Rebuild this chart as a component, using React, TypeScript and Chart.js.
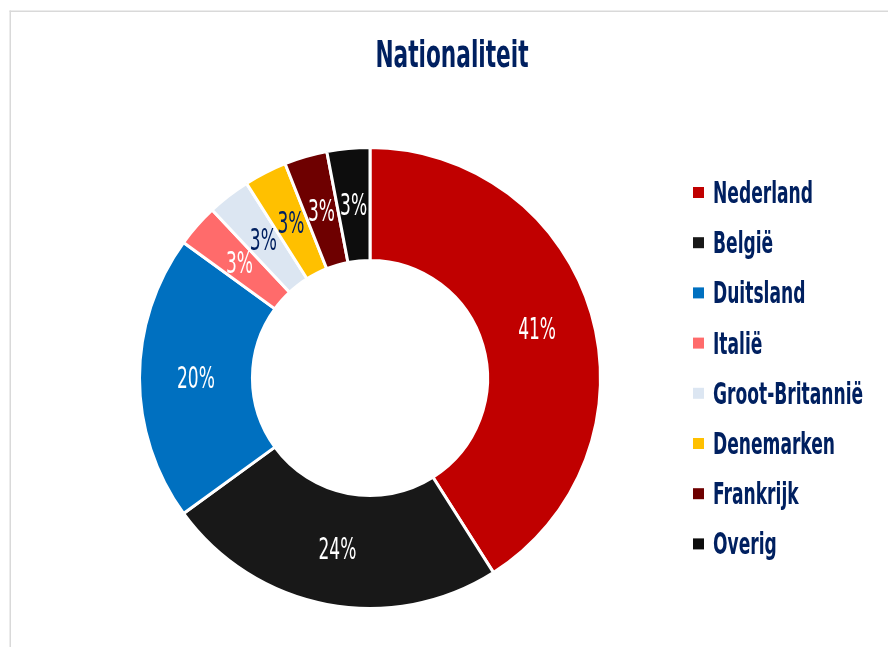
import React, { useEffect, useRef } from 'react';
import { Chart, registerables } from 'chart.js';

Chart.register(...registerables);

const categories = ['Nederland', 'België', 'Duitsland', 'Italië', 'Groot-Britannië', 'Denemarken', 'Frankrijk', 'Overig'];
const shares = [41, 24, 20, 3, 3, 3, 3, 3];
const sliceColors = ['#C00000', '#181818', '#0070C0', '#FF6B6B', '#DCE6F2', '#FFC000', '#6E0000', '#0D0D0D'];
const labelColors = ['#FFFFFF', '#FFFFFF', '#FFFFFF', '#FFFFFF', '#002060', '#002060', '#FFFFFF', '#FFFFFF'];
const chartTitle = 'Nationaliteit';

const NAVY = '#002060';
const FONT = '"DejaVu Sans", "Liberation Sans", sans-serif';
const NARROW = 0.57;

function drawNarrow(ctx: CanvasRenderingContext2D, text: string, x: number, y: number, align: CanvasTextAlign, scaleX: number) {
  ctx.save();
  ctx.translate(x, y);
  ctx.scale(scaleX, 1);
  ctx.textAlign = align;
  ctx.textBaseline = 'alphabetic';
  ctx.fillText(text, 0, 0);
  ctx.restore();
}

const framePlugin = {
  id: 'frame',
  beforeDraw(chart: any) {
    const ctx = chart.ctx as CanvasRenderingContext2D;
    ctx.save();
    ctx.fillStyle = '#FFFFFF';
    ctx.fillRect(0, 0, chart.width, chart.height);
    ctx.fillStyle = '#D9D9D9';
    ctx.fillRect(9.5, 10.5, 1.5, chart.height);
    ctx.fillRect(9.5, 10.5, chart.width, 1.5);
    ctx.restore();
  },
};

const sliceLabelPlugin = {
  id: 'sliceLabels',
  afterDatasetsDraw(chart: any) {
    const ctx = chart.ctx as CanvasRenderingContext2D;
    const meta = chart.getDatasetMeta(0);
    const total = shares.reduce((a, b) => a + b, 0);
    ctx.save();
    ctx.font = `normal 31px ${FONT}`;
    meta.data.forEach((arc: any, i: number) => {
      const p = arc.getCenterPoint();
      const pct = Math.round((shares[i] / total) * 100) + '%';
      ctx.fillStyle = labelColors[i];
      drawNarrow(ctx, pct, p.x, p.y + 10, 'center', 0.55);
    });
    ctx.restore();
  },
};

const titleLegendPlugin = {
  id: 'titleLegend',
  afterDraw(chart: any) {
    const ctx = chart.ctx as CanvasRenderingContext2D;
    ctx.save();
    ctx.fillStyle = NAVY;
    ctx.font = `bold 38px ${FONT}`;
    drawNarrow(ctx, chartTitle, 452, 67, 'center', NARROW);

    ctx.font = `bold 30px ${FONT}`;
    categories.forEach((name, i) => {
      const y = 203 + i * 50.2;
      ctx.fillStyle = sliceColors[i];
      ctx.fillRect(693, y - 16, 11, 11);
      ctx.fillStyle = NAVY;
      drawNarrow(ctx, name, 713, y, 'left', NARROW);
    });
    ctx.restore();
  },
};

export default function App() {
  const canvasRef = useRef<HTMLCanvasElement | null>(null);

  useEffect(() => {
    if (!canvasRef.current) return;
    const chart = new Chart(canvasRef.current, {
      type: 'doughnut',
      data: {
        labels: categories,
        datasets: [
          {
            data: shares,
            backgroundColor: sliceColors,
            borderColor: '#FFFFFF',
            borderWidth: 3,
          },
        ],
      },
      options: {
        responsive: false,
        animation: false,
        cutout: '51%',
        layout: { padding: { top: 146, bottom: 37, left: 60, right: 208 } },
        plugins: {
          legend: { display: false },
          title: { display: false },
          tooltip: { enabled: false },
        },
      },
      plugins: [framePlugin, sliceLabelPlugin, titleLegendPlugin],
    });
    return () => chart.destroy();
  }, []);

  return (
    <div style={{ position: 'fixed', left: 0, top: 0, width: 888, height: 647, background: '#fff' }}>
      <canvas ref={canvasRef} width={888} height={647} style={{ display: 'block' }} />
    </div>
  );
}
